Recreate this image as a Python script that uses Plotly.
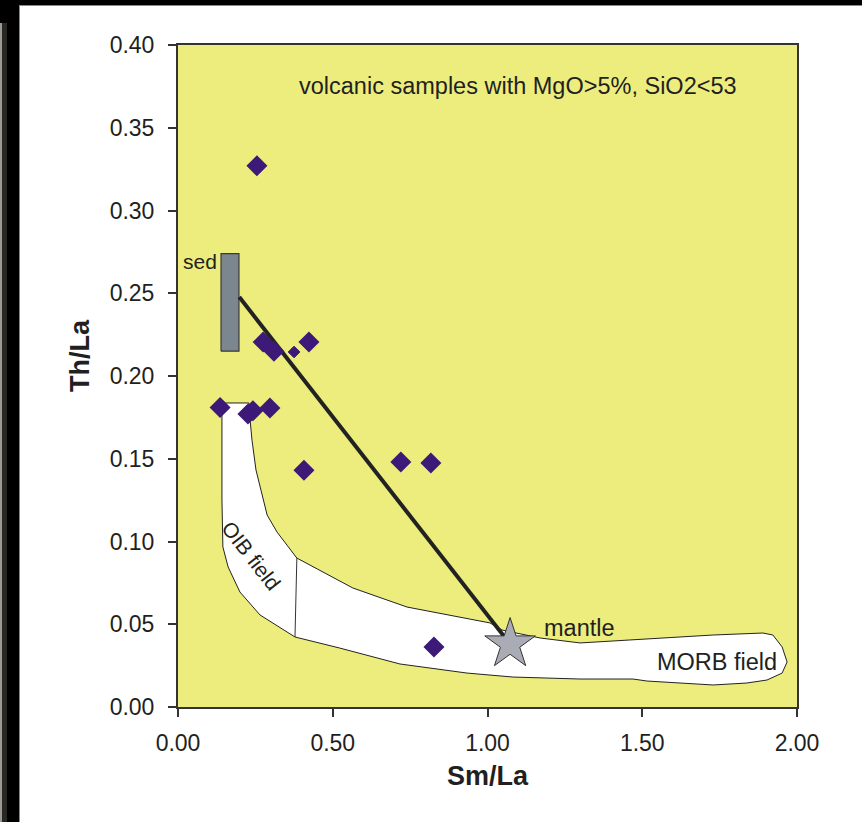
import plotly.graph_objects as go

# ---- data ----
sample_x = [0.255, 0.275, 0.310, 0.423, 0.136, 0.242, 0.226, 0.297, 0.407, 0.720, 0.817, 0.827]
sample_y = [0.327, 0.2205, 0.215, 0.2205, 0.181, 0.179, 0.177, 0.1807, 0.143, 0.148, 0.1474, 0.0363]
small_x = [0.375]
small_y = [0.2145]

field_x = [0.142, 0.229, 0.233, 0.239, 0.252, 0.268, 0.288, 0.320, 0.384, 0.565, 0.740, 1.008,
           1.047, 1.170, 1.299, 1.460, 1.622, 1.729, 1.890, 1.922, 1.952, 1.968, 1.952, 1.903,
           1.838, 1.729, 1.515, 1.470, 1.299, 1.082, 0.934, 0.717, 0.523, 0.378, 0.265, 0.200,
           0.162, 0.145, 0.142, 0.142]
field_y = [0.1837, 0.1837, 0.1734, 0.1613, 0.1432, 0.1311, 0.1160, 0.1057, 0.0900, 0.0719, 0.0604, 0.0508,
           0.0465, 0.0417, 0.0387, 0.0405, 0.0423, 0.0435, 0.0447, 0.0435, 0.0363, 0.0272, 0.0205, 0.0163,
           0.0145, 0.0133, 0.0157, 0.0169, 0.0169, 0.0181, 0.0205, 0.0260, 0.0356, 0.0423, 0.0556, 0.0695,
           0.0846, 0.0967, 0.1251, 0.1837]
divider_x = [0.384, 0.378]
divider_y = [0.0900, 0.0423]

sed_x = [0.139, 0.197]
sed_y = [0.215, 0.274]
mix_x = [0.198, 1.073]
mix_y = [0.2477, 0.038]
mantle_x = [1.073]
mantle_y = [0.038]

x_ticks = [0, 0.5, 1.0, 1.5, 2.0]
y_ticks = [0, 0.05, 0.10, 0.15, 0.20, 0.25, 0.30, 0.35, 0.40]

# ---- layout geometry ----
W, H = 862, 822
ML, MR, MT, MB = 178, 65, 45, 115
PW, PH = W - ML - MR, H - MT - MB


def px(x):
    return (x - ML) / PW


def py(y):
    return (H - MB - y) / PH


FONT = "Arial, Liberation Sans, sans-serif"
TXT = "#231f20"
PURPLE = "#3d1a78"

fig = go.Figure()

fig.add_trace(go.Scatter(x=field_x, y=field_y, mode="lines", fill="toself", fillcolor="white",
                         line=dict(color="#222", width=1), hoverinfo="skip", showlegend=False))
fig.add_trace(go.Scatter(x=divider_x, y=divider_y, mode="lines",
                         line=dict(color="#333", width=1), showlegend=False))
fig.add_trace(go.Scatter(x=[sed_x[0], sed_x[1], sed_x[1], sed_x[0], sed_x[0]],
                         y=[sed_y[0], sed_y[0], sed_y[1], sed_y[1], sed_y[0]],
                         mode="lines", fill="toself", fillcolor="#7b868e",
                         line=dict(color="#3a3a3a", width=1.2), showlegend=False))
fig.add_trace(go.Scatter(x=mix_x, y=mix_y, mode="lines",
                         line=dict(color="#222", width=4), showlegend=False))
fig.add_trace(go.Scatter(x=sample_x, y=sample_y, mode="markers",
                         marker=dict(symbol="diamond", size=14, color=PURPLE,
                                     line=dict(color=PURPLE, width=2)), showlegend=False))
fig.add_trace(go.Scatter(x=small_x, y=small_y, mode="markers",
                         marker=dict(symbol="diamond", size=9, color=PURPLE,
                                     line=dict(color=PURPLE, width=1)), showlegend=False))
fig.add_trace(go.Scatter(x=mantle_x, y=mantle_y, mode="markers",
                         marker=dict(symbol="star", size=38, color="#a9acb5",
                                     line=dict(color="#333", width=1)), showlegend=False))

ann = [
    dict(x=1.098, y=0.375, text="volcanic samples with MgO>5%, SiO2<53", xref="x", yref="y",
         showarrow=False, font=dict(size=23.5, color=TXT, family=FONT)),
    dict(x=0.01, y=0.269, text="sed", xref="x", yref="y", xanchor="left",
         showarrow=False, font=dict(size=21, color=TXT, family=FONT)),
    dict(x=1.177, y=0.0477, text="mantle", xref="x", yref="y", xanchor="left",
         showarrow=False, font=dict(size=23.5, color=TXT, family=FONT)),
    dict(x=1.943, y=0.0272, text="MORB field", xref="x", yref="y", xanchor="right",
         showarrow=False, font=dict(size=23.5, color=TXT, family=FONT)),
    dict(x=0.236, y=0.0915, text="OIB field", xref="x", yref="y", textangle=52,
         showarrow=False, font=dict(size=21, color=TXT, family=FONT)),
    dict(x=px(80), y=py(355), text="<b>Th/La</b>", xref="paper", yref="paper", textangle=-90,
         xanchor="center", yanchor="middle",
         showarrow=False, font=dict(size=27, color=TXT, family=FONT)),
    dict(x=px(488), y=py(776), text="<b>Sm/La</b>", xref="paper", yref="paper",
         xanchor="center", yanchor="middle",
         showarrow=False, font=dict(size=27, color=TXT, family=FONT)),
]

shapes = [
    dict(type="rect", xref="paper", yref="paper", x0=px(0), x1=px(19), y0=py(822), y1=py(0),
         fillcolor="black", line=dict(width=0), layer="above"),
    dict(type="rect", xref="paper", yref="paper", x0=px(0), x1=px(862), y0=py(5), y1=py(0),
         fillcolor="black", line=dict(width=0), layer="above"),
    dict(type="rect", xref="paper", yref="paper", x0=px(0), x1=px(2), y0=py(822), y1=py(23),
         fillcolor="#9a9a9a", line=dict(width=0), layer="above"),
    dict(type="rect", xref="paper", yref="paper", x0=px(2), x1=px(7), y0=py(822), y1=py(23),
         fillcolor="#2a2622", line=dict(width=0), layer="above"),
    dict(type="line", xref="paper", yref="paper", x0=px(19.5), x1=px(19.5), y0=py(822), y1=py(5),
         line=dict(color="#8a8a8a", width=1), layer="above"),
    dict(type="line", xref="paper", yref="paper", x0=px(19), x1=px(862), y0=py(5.5), y1=py(5.5),
         line=dict(color="#8a8a8a", width=1), layer="above"),
]

fig.update_layout(
    width=W, height=H,
    margin=dict(l=ML, r=MR, t=MT, b=MB, pad=0),
    paper_bgcolor="white", plot_bgcolor="#eded7e",
    font=dict(family=FONT, color=TXT),
    annotations=ann, shapes=shapes, showlegend=False,
)
fig.update_xaxes(range=[0, 2], tickvals=x_ticks, tickformat=".2f", ticks="outside", ticklen=8,
                 tickwidth=1.5, tickcolor="#333", showgrid=False, zeroline=False,
                 showline=True, linecolor="#333", linewidth=2, mirror=True,
                 ticklabelstandoff=6,
                 tickfont=dict(size=23, color=TXT, family=FONT))
fig.update_yaxes(range=[0, 0.4], tickvals=y_ticks, tickformat=".2f", ticks="outside", ticklen=8,
                 tickwidth=1.5, tickcolor="#333", showgrid=False, zeroline=False,
                 showline=True, linecolor="#333", linewidth=2, mirror=True,
                 ticklabelstandoff=9,
                 tickfont=dict(size=23, color=TXT, family=FONT))

fig.write_html("out.html")
